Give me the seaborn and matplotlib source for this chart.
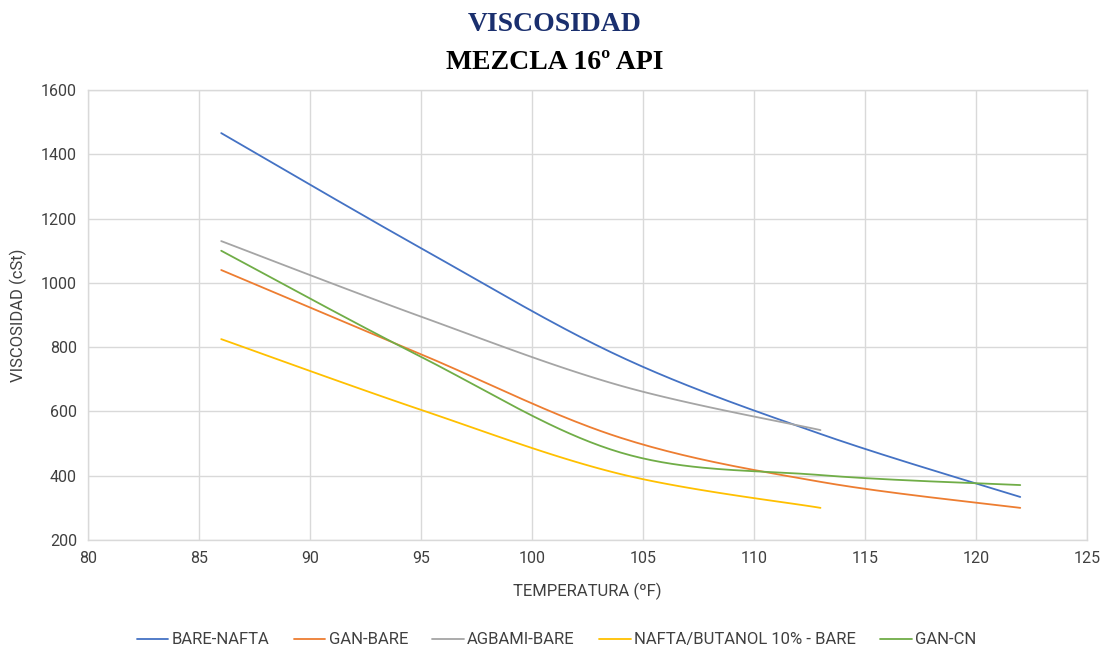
import numpy as np
import pandas as pd
import matplotlib
matplotlib.use("Agg")
import matplotlib.pyplot as plt
from matplotlib import font_manager
import seaborn as sns

# ---- data ----
temperatura = [86, 95, 104, 113, 122]
bare_nafta = [1466, 1108, 770, 530, 334]
gan_bare = [1040, 778, 518, 381, 300]
agbami_bare = [1130, 895, 680, 542]
nafta_butanol = [825, 605, 405, 300]
gan_cn = [1100, 770, 472, 402, 371]

series_names = ["BARE-NAFTA", "GAN-BARE", "AGBAMI-BARE", "NAFTA/BUTANOL 10% - BARE", "GAN-CN"]
series_values = [bare_nafta, gan_bare, agbami_bare, nafta_butanol, gan_cn]
colors = ["#4472C4", "#ED7D31", "#A5A5A5", "#FFC000", "#70AD47"]

x_ticks = [80, 85, 90, 95, 100, 105, 110, 115, 120, 125]
y_ticks = [200, 400, 600, 800, 1000, 1200, 1400, 1600]

sns.set_theme(style="white")
names = {f.name for f in font_manager.fontManager.ttflist}
narrow = "Liberation Sans Narrow" if "Liberation Sans Narrow" in names else "Roboto"
plt.rcParams["font.family"] = [narrow, "DejaVu Sans"]


def smooth(xs, ys, n=40):
    """Excel-like smoothed line (Bezier through the points)."""
    xs = np.asarray(xs, float)
    ys = np.asarray(ys, float)
    P = np.column_stack([xs, ys])
    out = []
    for i in range(len(P) - 1):
        p0 = P[i - 1] if i > 0 else P[i]
        p1, p2 = P[i], P[i + 1]
        p3 = P[i + 2] if i + 2 < len(P) else P[i + 1]
        c1 = p1 + (p2 - p0) / 6.0
        c2 = p2 - (p3 - p1) / 6.0
        t = np.linspace(0, 1, n)[:, None]
        seg = ((1 - t) ** 3) * p1 + 3 * ((1 - t) ** 2) * t * c1 + 3 * (1 - t) * t ** 2 * c2 + t ** 3 * p2
        out.append(seg if i == 0 else seg[1:])
    arr = np.vstack(out)
    return arr[:, 0], arr[:, 1]


frames = []
for name, vals in zip(series_names, series_values):
    sx, sy = smooth(temperatura[:len(vals)], vals)
    frames.append(pd.DataFrame({"x": sx, "y": sy, "serie": name}))
df = pd.concat(frames, ignore_index=True)

fig = plt.figure(figsize=(11.09, 6.5), dpi=100)
ax = fig.add_axes([0.0794, 0.1692, 0.9006, 0.6923])

sns.lineplot(data=df, x="x", y="y", hue="serie", hue_order=series_names,
             palette=colors, sort=False, estimator=None, units="serie",
             linewidth=1.3, ax=ax, legend=True)

ax.set_xlim(80, 125)
ax.set_ylim(200, 1600)
ax.set_xticks(x_ticks)
ax.set_yticks(y_ticks)
ax.tick_params(axis="both", labelsize=11.5, colors="#404040", length=0, pad=8)
ax.grid(True, color="#D9D9D9", linewidth=1.0)
ax.set_axisbelow(True)
for s in ax.spines.values():
    s.set_visible(True)
    s.set_color("#D9D9D9")
    s.set_linewidth(1.0)

ax.set_xlabel("TEMPERATURA (ºF)", fontsize=12, color="#404040", labelpad=12)
ax.set_ylabel("VISCOSIDAD (cSt)", fontsize=12, color="#404040", labelpad=10)

handles, labels = ax.get_legend_handles_labels()
ax.legend(handles, labels, loc="center", bbox_to_anchor=(0.469, -0.222), ncol=5,
          frameon=False, fontsize=12, handlelength=1.9, columnspacing=1.45,
          handletextpad=0.2, labelcolor="#404040")

serif = ["Liberation Serif", "DejaVu Serif"]
fig.text(0.5, 0.963, "VISCOSIDAD", ha="center", va="center", fontsize=20,
         fontweight="bold", color="#1A2F6E", family=serif)
fig.text(0.5, 0.904, "MEZCLA 16º API", ha="center", va="center", fontsize=20,
         fontweight="bold", color="black", family=serif)

fig.savefig("out.png", dpi=100)
